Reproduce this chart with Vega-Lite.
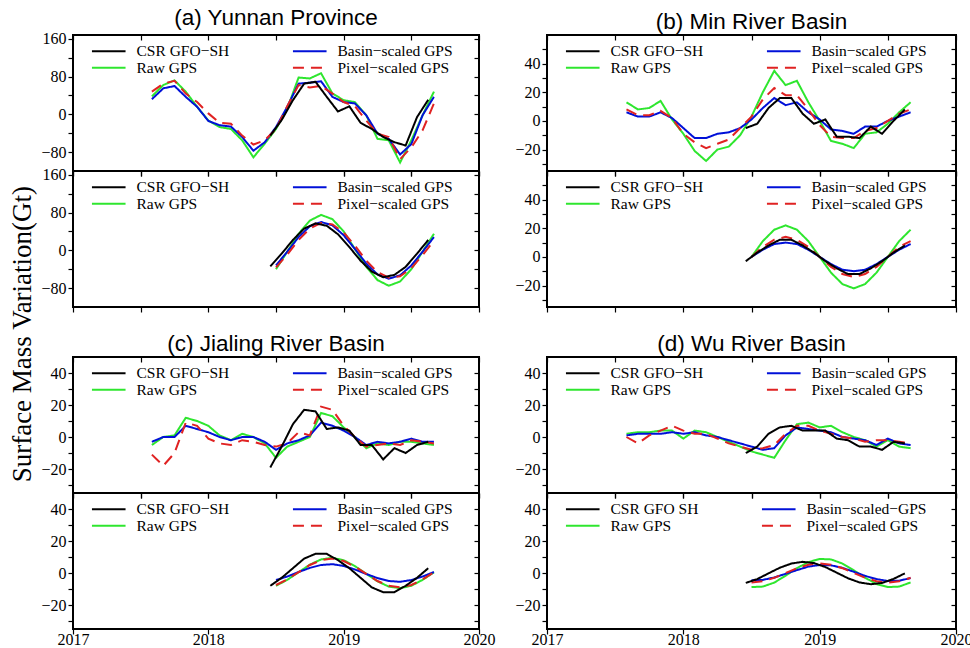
{
  "$schema": "https://vega.github.io/schema/vega-lite/v6.json",
  "padding": {"left": 8, "top": 6, "right": 6, "bottom": 2},
  "background": "white",
  "title": {"text": "Surface Mass Variation(Gt)", "orient": "left", "anchor": "middle", "font": "Liberation Serif", "fontSize": 27, "fontWeight": "normal", "color": "black", "offset": 3, "dx": -7},
  "config": {
    "view": {"stroke": "black", "strokeWidth": 2},
    "axis": {"labelFont": "Liberation Serif", "labelFontSize": 16, "labelColor": "black", "tickColor": "black", "tickWidth": 1.2, "tickSize": 5, "domain": false, "grid": false, "labelFlush": false, "labelOverlap": false, "labelBound": false, "labelPadding": 2},
    "title": {"font": "Liberation Sans", "fontSize": 22.5, "fontWeight": "normal", "color": "black", "offset": 1},
    "line": {"strokeWidth": 2}
  },
  "datasets": {
    "gms": [
      {"r":"a","p":"obs","s":"raw","t":2017.583,"v":38},{"r":"a","p":"obs","s":"raw","t":2017.667,"v":62},{"r":"a","p":"obs","s":"raw","t":2017.75,"v":72},{"r":"a","p":"obs","s":"raw","t":2017.833,"v":48},{"r":"a","p":"obs","s":"raw","t":2017.917,"v":16},{"r":"a","p":"obs","s":"raw","t":2018,"v":-13},{"r":"a","p":"obs","s":"raw","t":2018.083,"v":-27},{"r":"a","p":"obs","s":"raw","t":2018.167,"v":-31},{"r":"a","p":"obs","s":"raw","t":2018.25,"v":-55},{"r":"a","p":"obs","s":"raw","t":2018.333,"v":-91},{"r":"a","p":"obs","s":"raw","t":2018.417,"v":-62},{"r":"a","p":"obs","s":"raw","t":2018.5,"v":-31},{"r":"a","p":"obs","s":"raw","t":2018.583,"v":12},{"r":"a","p":"obs","s":"raw","t":2018.667,"v":78},{"r":"a","p":"obs","s":"raw","t":2018.75,"v":76},{"r":"a","p":"obs","s":"raw","t":2018.833,"v":87},{"r":"a","p":"obs","s":"raw","t":2018.917,"v":44},{"r":"a","p":"obs","s":"raw","t":2019,"v":30},{"r":"a","p":"obs","s":"raw","t":2019.083,"v":26},{"r":"a","p":"obs","s":"raw","t":2019.167,"v":-2},{"r":"a","p":"obs","s":"raw","t":2019.25,"v":-52},{"r":"a","p":"obs","s":"raw","t":2019.333,"v":-55},{"r":"a","p":"obs","s":"raw","t":2019.417,"v":-102},{"r":"a","p":"obs","s":"raw","t":2019.5,"v":-55},{"r":"a","p":"obs","s":"raw","t":2019.583,"v":-2},{"r":"a","p":"obs","s":"raw","t":2019.667,"v":48},
      {"r":"a","p":"obs","s":"basin","t":2017.583,"v":32},{"r":"a","p":"obs","s":"basin","t":2017.667,"v":55},{"r":"a","p":"obs","s":"basin","t":2017.75,"v":60},{"r":"a","p":"obs","s":"basin","t":2017.833,"v":37},{"r":"a","p":"obs","s":"basin","t":2017.917,"v":16},{"r":"a","p":"obs","s":"basin","t":2018,"v":-14},{"r":"a","p":"obs","s":"basin","t":2018.083,"v":-23},{"r":"a","p":"obs","s":"basin","t":2018.167,"v":-26},{"r":"a","p":"obs","s":"basin","t":2018.25,"v":-48},{"r":"a","p":"obs","s":"basin","t":2018.333,"v":-77},{"r":"a","p":"obs","s":"basin","t":2018.417,"v":-59},{"r":"a","p":"obs","s":"basin","t":2018.5,"v":-27},{"r":"a","p":"obs","s":"basin","t":2018.583,"v":16},{"r":"a","p":"obs","s":"basin","t":2018.667,"v":65},{"r":"a","p":"obs","s":"basin","t":2018.75,"v":67},{"r":"a","p":"obs","s":"basin","t":2018.833,"v":70},{"r":"a","p":"obs","s":"basin","t":2018.917,"v":37},{"r":"a","p":"obs","s":"basin","t":2019,"v":26},{"r":"a","p":"obs","s":"basin","t":2019.083,"v":23},{"r":"a","p":"obs","s":"basin","t":2019.167,"v":-2},{"r":"a","p":"obs","s":"basin","t":2019.25,"v":-41},{"r":"a","p":"obs","s":"basin","t":2019.333,"v":-52},{"r":"a","p":"obs","s":"basin","t":2019.417,"v":-85},{"r":"a","p":"obs","s":"basin","t":2019.5,"v":-63},{"r":"a","p":"obs","s":"basin","t":2019.583,"v":-2},{"r":"a","p":"obs","s":"basin","t":2019.667,"v":37},
      {"r":"a","p":"obs","s":"pixel","t":2017.583,"v":48},{"r":"a","p":"obs","s":"pixel","t":2017.667,"v":65},{"r":"a","p":"obs","s":"pixel","t":2017.75,"v":71},{"r":"a","p":"obs","s":"pixel","t":2017.833,"v":44},{"r":"a","p":"obs","s":"pixel","t":2017.917,"v":26},{"r":"a","p":"obs","s":"pixel","t":2018,"v":2},{"r":"a","p":"obs","s":"pixel","t":2018.083,"v":-18},{"r":"a","p":"obs","s":"pixel","t":2018.167,"v":-20},{"r":"a","p":"obs","s":"pixel","t":2018.25,"v":-45},{"r":"a","p":"obs","s":"pixel","t":2018.333,"v":-64},{"r":"a","p":"obs","s":"pixel","t":2018.417,"v":-55},{"r":"a","p":"obs","s":"pixel","t":2018.5,"v":-31},{"r":"a","p":"obs","s":"pixel","t":2018.583,"v":17},{"r":"a","p":"obs","s":"pixel","t":2018.667,"v":62},{"r":"a","p":"obs","s":"pixel","t":2018.75,"v":57},{"r":"a","p":"obs","s":"pixel","t":2018.833,"v":60},{"r":"a","p":"obs","s":"pixel","t":2018.917,"v":44},{"r":"a","p":"obs","s":"pixel","t":2019,"v":26},{"r":"a","p":"obs","s":"pixel","t":2019.083,"v":17},{"r":"a","p":"obs","s":"pixel","t":2019.167,"v":-13},{"r":"a","p":"obs","s":"pixel","t":2019.25,"v":-41},{"r":"a","p":"obs","s":"pixel","t":2019.333,"v":-48},{"r":"a","p":"obs","s":"pixel","t":2019.417,"v":-95},{"r":"a","p":"obs","s":"pixel","t":2019.5,"v":-70},{"r":"a","p":"obs","s":"pixel","t":2019.583,"v":-34},{"r":"a","p":"obs","s":"pixel","t":2019.667,"v":23},
      {"r":"a","p":"obs","s":"csr","t":2018.458,"v":-45},{"r":"a","p":"obs","s":"csr","t":2018.542,"v":-12},{"r":"a","p":"obs","s":"csr","t":2018.625,"v":30},{"r":"a","p":"obs","s":"csr","t":2018.708,"v":65},{"r":"a","p":"obs","s":"csr","t":2018.792,"v":69},{"r":"a","p":"obs","s":"csr","t":2018.875,"v":37},{"r":"a","p":"obs","s":"csr","t":2018.958,"v":6},{"r":"a","p":"obs","s":"csr","t":2019.042,"v":17},{"r":"a","p":"obs","s":"csr","t":2019.125,"v":-18},{"r":"a","p":"obs","s":"csr","t":2019.208,"v":-31},{"r":"a","p":"obs","s":"csr","t":2019.292,"v":-48},{"r":"a","p":"obs","s":"csr","t":2019.375,"v":-59},{"r":"a","p":"obs","s":"csr","t":2019.458,"v":-66},{"r":"a","p":"obs","s":"csr","t":2019.542,"v":-6},{"r":"a","p":"obs","s":"csr","t":2019.625,"v":31},

      {"r":"a","p":"fit","s":"raw","t":2018.5,"v":-40},{"r":"a","p":"fit","s":"raw","t":2018.583,"v":-3},{"r":"a","p":"fit","s":"raw","t":2018.667,"v":35},{"r":"a","p":"fit","s":"raw","t":2018.75,"v":63},{"r":"a","p":"fit","s":"raw","t":2018.833,"v":75},{"r":"a","p":"fit","s":"raw","t":2018.917,"v":66},{"r":"a","p":"fit","s":"raw","t":2019,"v":40},{"r":"a","p":"fit","s":"raw","t":2019.083,"v":3},{"r":"a","p":"fit","s":"raw","t":2019.167,"v":-35},{"r":"a","p":"fit","s":"raw","t":2019.25,"v":-63},{"r":"a","p":"fit","s":"raw","t":2019.333,"v":-75},{"r":"a","p":"fit","s":"raw","t":2019.417,"v":-66},{"r":"a","p":"fit","s":"raw","t":2019.5,"v":-40},{"r":"a","p":"fit","s":"raw","t":2019.583,"v":-3},{"r":"a","p":"fit","s":"raw","t":2019.667,"v":35},
      {"r":"a","p":"fit","s":"basin","t":2018.5,"v":-32},{"r":"a","p":"fit","s":"basin","t":2018.583,"v":-3},{"r":"a","p":"fit","s":"basin","t":2018.667,"v":28},{"r":"a","p":"fit","s":"basin","t":2018.75,"v":51},{"r":"a","p":"fit","s":"basin","t":2018.833,"v":60},{"r":"a","p":"fit","s":"basin","t":2018.917,"v":53},{"r":"a","p":"fit","s":"basin","t":2019,"v":32},{"r":"a","p":"fit","s":"basin","t":2019.083,"v":3},{"r":"a","p":"fit","s":"basin","t":2019.167,"v":-28},{"r":"a","p":"fit","s":"basin","t":2019.25,"v":-51},{"r":"a","p":"fit","s":"basin","t":2019.333,"v":-60},{"r":"a","p":"fit","s":"basin","t":2019.417,"v":-53},{"r":"a","p":"fit","s":"basin","t":2019.5,"v":-32},{"r":"a","p":"fit","s":"basin","t":2019.583,"v":-3},{"r":"a","p":"fit","s":"basin","t":2019.667,"v":28},
      {"r":"a","p":"fit","s":"pixel","t":2018.5,"v":-36},{"r":"a","p":"fit","s":"pixel","t":2018.583,"v":-9},{"r":"a","p":"fit","s":"pixel","t":2018.667,"v":22},{"r":"a","p":"fit","s":"pixel","t":2018.75,"v":46},{"r":"a","p":"fit","s":"pixel","t":2018.833,"v":58},{"r":"a","p":"fit","s":"pixel","t":2018.917,"v":55},{"r":"a","p":"fit","s":"pixel","t":2019,"v":38},{"r":"a","p":"fit","s":"pixel","t":2019.083,"v":10},{"r":"a","p":"fit","s":"pixel","t":2019.167,"v":-22},{"r":"a","p":"fit","s":"pixel","t":2019.25,"v":-46},{"r":"a","p":"fit","s":"pixel","t":2019.333,"v":-58},{"r":"a","p":"fit","s":"pixel","t":2019.417,"v":-55},{"r":"a","p":"fit","s":"pixel","t":2019.5,"v":-38},{"r":"a","p":"fit","s":"pixel","t":2019.583,"v":-10},{"r":"a","p":"fit","s":"pixel","t":2019.667,"v":20},
      {"r":"a","p":"fit","s":"csr","t":2018.458,"v":-34},{"r":"a","p":"fit","s":"csr","t":2018.542,"v":-7},{"r":"a","p":"fit","s":"csr","t":2018.625,"v":22},{"r":"a","p":"fit","s":"csr","t":2018.708,"v":46},{"r":"a","p":"fit","s":"csr","t":2018.792,"v":57},{"r":"a","p":"fit","s":"csr","t":2018.875,"v":52},{"r":"a","p":"fit","s":"csr","t":2018.958,"v":34},{"r":"a","p":"fit","s":"csr","t":2019.042,"v":7},{"r":"a","p":"fit","s":"csr","t":2019.125,"v":-22},{"r":"a","p":"fit","s":"csr","t":2019.208,"v":-45},{"r":"a","p":"fit","s":"csr","t":2019.292,"v":-57},{"r":"a","p":"fit","s":"csr","t":2019.375,"v":-52},{"r":"a","p":"fit","s":"csr","t":2019.458,"v":-35},{"r":"a","p":"fit","s":"csr","t":2019.542,"v":-7},{"r":"a","p":"fit","s":"csr","t":2019.625,"v":22},

      {"r":"b","p":"obs","s":"raw","t":2017.583,"v":13},{"r":"b","p":"obs","s":"raw","t":2017.667,"v":8},{"r":"b","p":"obs","s":"raw","t":2017.75,"v":9},{"r":"b","p":"obs","s":"raw","t":2017.833,"v":14},{"r":"b","p":"obs","s":"raw","t":2017.917,"v":1},{"r":"b","p":"obs","s":"raw","t":2018,"v":-9},{"r":"b","p":"obs","s":"raw","t":2018.083,"v":-21},{"r":"b","p":"obs","s":"raw","t":2018.167,"v":-28},{"r":"b","p":"obs","s":"raw","t":2018.25,"v":-20},{"r":"b","p":"obs","s":"raw","t":2018.333,"v":-18},{"r":"b","p":"obs","s":"raw","t":2018.417,"v":-10},{"r":"b","p":"obs","s":"raw","t":2018.5,"v":3},{"r":"b","p":"obs","s":"raw","t":2018.583,"v":20},{"r":"b","p":"obs","s":"raw","t":2018.667,"v":35},{"r":"b","p":"obs","s":"raw","t":2018.75,"v":25},{"r":"b","p":"obs","s":"raw","t":2018.833,"v":28},{"r":"b","p":"obs","s":"raw","t":2018.917,"v":13},{"r":"b","p":"obs","s":"raw","t":2019,"v":0},{"r":"b","p":"obs","s":"raw","t":2019.083,"v":-14},{"r":"b","p":"obs","s":"raw","t":2019.167,"v":-16},{"r":"b","p":"obs","s":"raw","t":2019.25,"v":-19},{"r":"b","p":"obs","s":"raw","t":2019.333,"v":-9},{"r":"b","p":"obs","s":"raw","t":2019.417,"v":-8},{"r":"b","p":"obs","s":"raw","t":2019.5,"v":-2},{"r":"b","p":"obs","s":"raw","t":2019.583,"v":6},{"r":"b","p":"obs","s":"raw","t":2019.667,"v":13},
      {"r":"b","p":"obs","s":"basin","t":2017.583,"v":6},{"r":"b","p":"obs","s":"basin","t":2017.667,"v":3},{"r":"b","p":"obs","s":"basin","t":2017.75,"v":3},{"r":"b","p":"obs","s":"basin","t":2017.833,"v":6},{"r":"b","p":"obs","s":"basin","t":2017.917,"v":2},{"r":"b","p":"obs","s":"basin","t":2018,"v":-5},{"r":"b","p":"obs","s":"basin","t":2018.083,"v":-12},{"r":"b","p":"obs","s":"basin","t":2018.167,"v":-12},{"r":"b","p":"obs","s":"basin","t":2018.25,"v":-9},{"r":"b","p":"obs","s":"basin","t":2018.333,"v":-8},{"r":"b","p":"obs","s":"basin","t":2018.417,"v":-5},{"r":"b","p":"obs","s":"basin","t":2018.5,"v":1},{"r":"b","p":"obs","s":"basin","t":2018.583,"v":9},{"r":"b","p":"obs","s":"basin","t":2018.667,"v":16},{"r":"b","p":"obs","s":"basin","t":2018.75,"v":11},{"r":"b","p":"obs","s":"basin","t":2018.833,"v":13},{"r":"b","p":"obs","s":"basin","t":2018.917,"v":6},{"r":"b","p":"obs","s":"basin","t":2019,"v":1},{"r":"b","p":"obs","s":"basin","t":2019.083,"v":-6},{"r":"b","p":"obs","s":"basin","t":2019.167,"v":-7},{"r":"b","p":"obs","s":"basin","t":2019.25,"v":-9},{"r":"b","p":"obs","s":"basin","t":2019.333,"v":-4},{"r":"b","p":"obs","s":"basin","t":2019.417,"v":-4},{"r":"b","p":"obs","s":"basin","t":2019.5,"v":0},{"r":"b","p":"obs","s":"basin","t":2019.583,"v":3},{"r":"b","p":"obs","s":"basin","t":2019.667,"v":6},
      {"r":"b","p":"obs","s":"pixel","t":2017.583,"v":8},{"r":"b","p":"obs","s":"pixel","t":2017.667,"v":4},{"r":"b","p":"obs","s":"pixel","t":2017.75,"v":4},{"r":"b","p":"obs","s":"pixel","t":2017.833,"v":7},{"r":"b","p":"obs","s":"pixel","t":2017.917,"v":2},{"r":"b","p":"obs","s":"pixel","t":2018,"v":-9},{"r":"b","p":"obs","s":"pixel","t":2018.083,"v":-15},{"r":"b","p":"obs","s":"pixel","t":2018.167,"v":-19},{"r":"b","p":"obs","s":"pixel","t":2018.25,"v":-16},{"r":"b","p":"obs","s":"pixel","t":2018.333,"v":-13},{"r":"b","p":"obs","s":"pixel","t":2018.417,"v":-5},{"r":"b","p":"obs","s":"pixel","t":2018.5,"v":3},{"r":"b","p":"obs","s":"pixel","t":2018.583,"v":15},{"r":"b","p":"obs","s":"pixel","t":2018.667,"v":23},{"r":"b","p":"obs","s":"pixel","t":2018.75,"v":18},{"r":"b","p":"obs","s":"pixel","t":2018.833,"v":18},{"r":"b","p":"obs","s":"pixel","t":2018.917,"v":8},{"r":"b","p":"obs","s":"pixel","t":2019,"v":-3},{"r":"b","p":"obs","s":"pixel","t":2019.083,"v":-11},{"r":"b","p":"obs","s":"pixel","t":2019.167,"v":-12},{"r":"b","p":"obs","s":"pixel","t":2019.25,"v":-12},{"r":"b","p":"obs","s":"pixel","t":2019.333,"v":-7},{"r":"b","p":"obs","s":"pixel","t":2019.417,"v":-5},{"r":"b","p":"obs","s":"pixel","t":2019.5,"v":0},{"r":"b","p":"obs","s":"pixel","t":2019.583,"v":5},{"r":"b","p":"obs","s":"pixel","t":2019.667,"v":8},
      {"r":"b","p":"obs","s":"csr","t":2018.458,"v":-5},{"r":"b","p":"obs","s":"csr","t":2018.542,"v":-2},{"r":"b","p":"obs","s":"csr","t":2018.625,"v":9},{"r":"b","p":"obs","s":"csr","t":2018.708,"v":16},{"r":"b","p":"obs","s":"csr","t":2018.792,"v":16},{"r":"b","p":"obs","s":"csr","t":2018.875,"v":5},{"r":"b","p":"obs","s":"csr","t":2018.958,"v":-2},{"r":"b","p":"obs","s":"csr","t":2019.042,"v":1},{"r":"b","p":"obs","s":"csr","t":2019.125,"v":-11},{"r":"b","p":"obs","s":"csr","t":2019.208,"v":-11},{"r":"b","p":"obs","s":"csr","t":2019.292,"v":-12},{"r":"b","p":"obs","s":"csr","t":2019.375,"v":-4},{"r":"b","p":"obs","s":"csr","t":2019.458,"v":-9},{"r":"b","p":"obs","s":"csr","t":2019.542,"v":0},{"r":"b","p":"obs","s":"csr","t":2019.625,"v":8},

      {"r":"b","p":"fit","s":"raw","t":2018.5,"v":0},{"r":"b","p":"fit","s":"raw","t":2018.583,"v":11},{"r":"b","p":"fit","s":"raw","t":2018.667,"v":19},{"r":"b","p":"fit","s":"raw","t":2018.75,"v":22},{"r":"b","p":"fit","s":"raw","t":2018.833,"v":19},{"r":"b","p":"fit","s":"raw","t":2018.917,"v":11},{"r":"b","p":"fit","s":"raw","t":2019,"v":0},{"r":"b","p":"fit","s":"raw","t":2019.083,"v":-11},{"r":"b","p":"fit","s":"raw","t":2019.167,"v":-19},{"r":"b","p":"fit","s":"raw","t":2019.25,"v":-22},{"r":"b","p":"fit","s":"raw","t":2019.333,"v":-19},{"r":"b","p":"fit","s":"raw","t":2019.417,"v":-11},{"r":"b","p":"fit","s":"raw","t":2019.5,"v":0},{"r":"b","p":"fit","s":"raw","t":2019.583,"v":11},{"r":"b","p":"fit","s":"raw","t":2019.667,"v":19},
      {"r":"b","p":"fit","s":"basin","t":2018.5,"v":0},{"r":"b","p":"fit","s":"basin","t":2018.583,"v":5},{"r":"b","p":"fit","s":"basin","t":2018.667,"v":9},{"r":"b","p":"fit","s":"basin","t":2018.75,"v":10},{"r":"b","p":"fit","s":"basin","t":2018.833,"v":9},{"r":"b","p":"fit","s":"basin","t":2018.917,"v":5},{"r":"b","p":"fit","s":"basin","t":2019,"v":0},{"r":"b","p":"fit","s":"basin","t":2019.083,"v":-5},{"r":"b","p":"fit","s":"basin","t":2019.167,"v":-9},{"r":"b","p":"fit","s":"basin","t":2019.25,"v":-10},{"r":"b","p":"fit","s":"basin","t":2019.333,"v":-9},{"r":"b","p":"fit","s":"basin","t":2019.417,"v":-5},{"r":"b","p":"fit","s":"basin","t":2019.5,"v":0},{"r":"b","p":"fit","s":"basin","t":2019.583,"v":5},{"r":"b","p":"fit","s":"basin","t":2019.667,"v":9},
      {"r":"b","p":"fit","s":"pixel","t":2018.5,"v":0},{"r":"b","p":"fit","s":"pixel","t":2018.583,"v":7},{"r":"b","p":"fit","s":"pixel","t":2018.667,"v":12},{"r":"b","p":"fit","s":"pixel","t":2018.75,"v":14},{"r":"b","p":"fit","s":"pixel","t":2018.833,"v":12},{"r":"b","p":"fit","s":"pixel","t":2018.917,"v":7},{"r":"b","p":"fit","s":"pixel","t":2019,"v":0},{"r":"b","p":"fit","s":"pixel","t":2019.083,"v":-7},{"r":"b","p":"fit","s":"pixel","t":2019.167,"v":-12},{"r":"b","p":"fit","s":"pixel","t":2019.25,"v":-14},{"r":"b","p":"fit","s":"pixel","t":2019.333,"v":-12},{"r":"b","p":"fit","s":"pixel","t":2019.417,"v":-7},{"r":"b","p":"fit","s":"pixel","t":2019.5,"v":0},{"r":"b","p":"fit","s":"pixel","t":2019.583,"v":7},{"r":"b","p":"fit","s":"pixel","t":2019.667,"v":11},
      {"r":"b","p":"fit","s":"csr","t":2018.458,"v":-3},{"r":"b","p":"fit","s":"csr","t":2018.542,"v":3},{"r":"b","p":"fit","s":"csr","t":2018.625,"v":8},{"r":"b","p":"fit","s":"csr","t":2018.708,"v":12},{"r":"b","p":"fit","s":"csr","t":2018.792,"v":12},{"r":"b","p":"fit","s":"csr","t":2018.875,"v":8},{"r":"b","p":"fit","s":"csr","t":2018.958,"v":3},{"r":"b","p":"fit","s":"csr","t":2019.042,"v":-3},{"r":"b","p":"fit","s":"csr","t":2019.125,"v":-8},{"r":"b","p":"fit","s":"csr","t":2019.208,"v":-12},{"r":"b","p":"fit","s":"csr","t":2019.292,"v":-12},{"r":"b","p":"fit","s":"csr","t":2019.375,"v":-8},{"r":"b","p":"fit","s":"csr","t":2019.458,"v":-3},{"r":"b","p":"fit","s":"csr","t":2019.542,"v":3},{"r":"b","p":"fit","s":"csr","t":2019.625,"v":8},

      {"r":"c","p":"obs","s":"raw","t":2017.583,"v":-5},{"r":"c","p":"obs","s":"raw","t":2017.667,"v":0},{"r":"c","p":"obs","s":"raw","t":2017.75,"v":1},{"r":"c","p":"obs","s":"raw","t":2017.833,"v":12},{"r":"c","p":"obs","s":"raw","t":2017.917,"v":10},{"r":"c","p":"obs","s":"raw","t":2018,"v":7},{"r":"c","p":"obs","s":"raw","t":2018.083,"v":1},{"r":"c","p":"obs","s":"raw","t":2018.167,"v":-2},{"r":"c","p":"obs","s":"raw","t":2018.25,"v":2},{"r":"c","p":"obs","s":"raw","t":2018.333,"v":0},{"r":"c","p":"obs","s":"raw","t":2018.417,"v":-4},{"r":"c","p":"obs","s":"raw","t":2018.5,"v":-13},{"r":"c","p":"obs","s":"raw","t":2018.583,"v":-6},{"r":"c","p":"obs","s":"raw","t":2018.667,"v":-3},{"r":"c","p":"obs","s":"raw","t":2018.75,"v":0},{"r":"c","p":"obs","s":"raw","t":2018.833,"v":15},{"r":"c","p":"obs","s":"raw","t":2018.917,"v":13},{"r":"c","p":"obs","s":"raw","t":2019,"v":6},{"r":"c","p":"obs","s":"raw","t":2019.083,"v":0},{"r":"c","p":"obs","s":"raw","t":2019.167,"v":-7},{"r":"c","p":"obs","s":"raw","t":2019.25,"v":-4},{"r":"c","p":"obs","s":"raw","t":2019.333,"v":-5},{"r":"c","p":"obs","s":"raw","t":2019.417,"v":-3},{"r":"c","p":"obs","s":"raw","t":2019.5,"v":-3},{"r":"c","p":"obs","s":"raw","t":2019.583,"v":-4},{"r":"c","p":"obs","s":"raw","t":2019.667,"v":-5},
      {"r":"c","p":"obs","s":"basin","t":2017.583,"v":-3},{"r":"c","p":"obs","s":"basin","t":2017.667,"v":0},{"r":"c","p":"obs","s":"basin","t":2017.75,"v":0},{"r":"c","p":"obs","s":"basin","t":2017.833,"v":7},{"r":"c","p":"obs","s":"basin","t":2017.917,"v":5},{"r":"c","p":"obs","s":"basin","t":2018,"v":3},{"r":"c","p":"obs","s":"basin","t":2018.083,"v":0},{"r":"c","p":"obs","s":"basin","t":2018.167,"v":-2},{"r":"c","p":"obs","s":"basin","t":2018.25,"v":0},{"r":"c","p":"obs","s":"basin","t":2018.333,"v":0},{"r":"c","p":"obs","s":"basin","t":2018.417,"v":-3},{"r":"c","p":"obs","s":"basin","t":2018.5,"v":-8},{"r":"c","p":"obs","s":"basin","t":2018.583,"v":-4},{"r":"c","p":"obs","s":"basin","t":2018.667,"v":-2},{"r":"c","p":"obs","s":"basin","t":2018.75,"v":1},{"r":"c","p":"obs","s":"basin","t":2018.833,"v":9},{"r":"c","p":"obs","s":"basin","t":2018.917,"v":7},{"r":"c","p":"obs","s":"basin","t":2019,"v":4},{"r":"c","p":"obs","s":"basin","t":2019.083,"v":0},{"r":"c","p":"obs","s":"basin","t":2019.167,"v":-5},{"r":"c","p":"obs","s":"basin","t":2019.25,"v":-3},{"r":"c","p":"obs","s":"basin","t":2019.333,"v":-4},{"r":"c","p":"obs","s":"basin","t":2019.417,"v":-3},{"r":"c","p":"obs","s":"basin","t":2019.5,"v":-1},{"r":"c","p":"obs","s":"basin","t":2019.583,"v":-3},{"r":"c","p":"obs","s":"basin","t":2019.667,"v":-3},
      {"r":"c","p":"obs","s":"pixel","t":2017.583,"v":-11},{"r":"c","p":"obs","s":"pixel","t":2017.667,"v":-18},{"r":"c","p":"obs","s":"pixel","t":2017.75,"v":-10},{"r":"c","p":"obs","s":"pixel","t":2017.833,"v":9},{"r":"c","p":"obs","s":"pixel","t":2017.917,"v":7},{"r":"c","p":"obs","s":"pixel","t":2018,"v":-1},{"r":"c","p":"obs","s":"pixel","t":2018.083,"v":-4},{"r":"c","p":"obs","s":"pixel","t":2018.167,"v":-5},{"r":"c","p":"obs","s":"pixel","t":2018.25,"v":-2},{"r":"c","p":"obs","s":"pixel","t":2018.333,"v":-3},{"r":"c","p":"obs","s":"pixel","t":2018.417,"v":-5},{"r":"c","p":"obs","s":"pixel","t":2018.5,"v":-6},{"r":"c","p":"obs","s":"pixel","t":2018.583,"v":-4},{"r":"c","p":"obs","s":"pixel","t":2018.667,"v":3},{"r":"c","p":"obs","s":"pixel","t":2018.75,"v":1},{"r":"c","p":"obs","s":"pixel","t":2018.833,"v":19},{"r":"c","p":"obs","s":"pixel","t":2018.917,"v":17},{"r":"c","p":"obs","s":"pixel","t":2019,"v":7},{"r":"c","p":"obs","s":"pixel","t":2019.083,"v":0},{"r":"c","p":"obs","s":"pixel","t":2019.167,"v":-6},{"r":"c","p":"obs","s":"pixel","t":2019.25,"v":-5},{"r":"c","p":"obs","s":"pixel","t":2019.333,"v":-4},{"r":"c","p":"obs","s":"pixel","t":2019.417,"v":-5},{"r":"c","p":"obs","s":"pixel","t":2019.5,"v":-2},{"r":"c","p":"obs","s":"pixel","t":2019.583,"v":-3},{"r":"c","p":"obs","s":"pixel","t":2019.667,"v":-4},
      {"r":"c","p":"obs","s":"csr","t":2018.458,"v":-19},{"r":"c","p":"obs","s":"csr","t":2018.542,"v":-6},{"r":"c","p":"obs","s":"csr","t":2018.625,"v":8},{"r":"c","p":"obs","s":"csr","t":2018.708,"v":17},{"r":"c","p":"obs","s":"csr","t":2018.792,"v":16},{"r":"c","p":"obs","s":"csr","t":2018.875,"v":5},{"r":"c","p":"obs","s":"csr","t":2018.958,"v":6},{"r":"c","p":"obs","s":"csr","t":2019.042,"v":4},{"r":"c","p":"obs","s":"csr","t":2019.125,"v":-5},{"r":"c","p":"obs","s":"csr","t":2019.208,"v":-5},{"r":"c","p":"obs","s":"csr","t":2019.292,"v":-14},{"r":"c","p":"obs","s":"csr","t":2019.375,"v":-7},{"r":"c","p":"obs","s":"csr","t":2019.458,"v":-10},{"r":"c","p":"obs","s":"csr","t":2019.542,"v":-5},{"r":"c","p":"obs","s":"csr","t":2019.625,"v":-3},

      {"r":"c","p":"fit","s":"raw","t":2018.5,"v":-8},{"r":"c","p":"fit","s":"raw","t":2018.583,"v":-4.3},{"r":"c","p":"fit","s":"raw","t":2018.667,"v":0.5},{"r":"c","p":"fit","s":"raw","t":2018.75,"v":5.2},{"r":"c","p":"fit","s":"raw","t":2018.833,"v":8.5},{"r":"c","p":"fit","s":"raw","t":2018.917,"v":9.5},{"r":"c","p":"fit","s":"raw","t":2019,"v":8},{"r":"c","p":"fit","s":"raw","t":2019.083,"v":4.3},{"r":"c","p":"fit","s":"raw","t":2019.167,"v":-0.5},{"r":"c","p":"fit","s":"raw","t":2019.25,"v":-5.2},{"r":"c","p":"fit","s":"raw","t":2019.333,"v":-8.5},{"r":"c","p":"fit","s":"raw","t":2019.417,"v":-9.5},{"r":"c","p":"fit","s":"raw","t":2019.5,"v":-8},{"r":"c","p":"fit","s":"raw","t":2019.583,"v":-4.3},{"r":"c","p":"fit","s":"raw","t":2019.667,"v":0.4},
      {"r":"c","p":"fit","s":"basin","t":2018.5,"v":-4.4},{"r":"c","p":"fit","s":"basin","t":2018.583,"v":-2.2},{"r":"c","p":"fit","s":"basin","t":2018.667,"v":0.6},{"r":"c","p":"fit","s":"basin","t":2018.75,"v":3.2},{"r":"c","p":"fit","s":"basin","t":2018.833,"v":5},{"r":"c","p":"fit","s":"basin","t":2018.917,"v":5.5},{"r":"c","p":"fit","s":"basin","t":2019,"v":4.4},{"r":"c","p":"fit","s":"basin","t":2019.083,"v":2.2},{"r":"c","p":"fit","s":"basin","t":2019.167,"v":-0.6},{"r":"c","p":"fit","s":"basin","t":2019.25,"v":-3.2},{"r":"c","p":"fit","s":"basin","t":2019.333,"v":-5},{"r":"c","p":"fit","s":"basin","t":2019.417,"v":-5.5},{"r":"c","p":"fit","s":"basin","t":2019.5,"v":-4.4},{"r":"c","p":"fit","s":"basin","t":2019.583,"v":-2.2},{"r":"c","p":"fit","s":"basin","t":2019.667,"v":0.6},
      {"r":"c","p":"fit","s":"pixel","t":2018.5,"v":-7.5},{"r":"c","p":"fit","s":"pixel","t":2018.583,"v":-4},{"r":"c","p":"fit","s":"pixel","t":2018.667,"v":0.5},{"r":"c","p":"fit","s":"pixel","t":2018.75,"v":5},{"r":"c","p":"fit","s":"pixel","t":2018.833,"v":8},{"r":"c","p":"fit","s":"pixel","t":2018.917,"v":9},{"r":"c","p":"fit","s":"pixel","t":2019,"v":7.5},{"r":"c","p":"fit","s":"pixel","t":2019.083,"v":4},{"r":"c","p":"fit","s":"pixel","t":2019.167,"v":-0.5},{"r":"c","p":"fit","s":"pixel","t":2019.25,"v":-5},{"r":"c","p":"fit","s":"pixel","t":2019.333,"v":-8},{"r":"c","p":"fit","s":"pixel","t":2019.417,"v":-9},{"r":"c","p":"fit","s":"pixel","t":2019.5,"v":-7.5},{"r":"c","p":"fit","s":"pixel","t":2019.583,"v":-4},{"r":"c","p":"fit","s":"pixel","t":2019.667,"v":0.5},
      {"r":"c","p":"fit","s":"csr","t":2018.458,"v":-8},{"r":"c","p":"fit","s":"csr","t":2018.542,"v":-3},{"r":"c","p":"fit","s":"csr","t":2018.625,"v":3},{"r":"c","p":"fit","s":"csr","t":2018.708,"v":9},{"r":"c","p":"fit","s":"csr","t":2018.792,"v":12},{"r":"c","p":"fit","s":"csr","t":2018.875,"v":12},{"r":"c","p":"fit","s":"csr","t":2018.958,"v":8},{"r":"c","p":"fit","s":"csr","t":2019.042,"v":3},{"r":"c","p":"fit","s":"csr","t":2019.125,"v":-3},{"r":"c","p":"fit","s":"csr","t":2019.208,"v":-9},{"r":"c","p":"fit","s":"csr","t":2019.292,"v":-12},{"r":"c","p":"fit","s":"csr","t":2019.375,"v":-12},{"r":"c","p":"fit","s":"csr","t":2019.458,"v":-8},{"r":"c","p":"fit","s":"csr","t":2019.542,"v":-3},{"r":"c","p":"fit","s":"csr","t":2019.625,"v":3},

      {"r":"d","p":"obs","s":"raw","t":2017.583,"v":2},{"r":"d","p":"obs","s":"raw","t":2017.667,"v":3},{"r":"d","p":"obs","s":"raw","t":2017.75,"v":3},{"r":"d","p":"obs","s":"raw","t":2017.833,"v":4},{"r":"d","p":"obs","s":"raw","t":2017.917,"v":4},{"r":"d","p":"obs","s":"raw","t":2018,"v":-1},{"r":"d","p":"obs","s":"raw","t":2018.083,"v":4},{"r":"d","p":"obs","s":"raw","t":2018.167,"v":3},{"r":"d","p":"obs","s":"raw","t":2018.25,"v":0},{"r":"d","p":"obs","s":"raw","t":2018.333,"v":-3},{"r":"d","p":"obs","s":"raw","t":2018.417,"v":-6},{"r":"d","p":"obs","s":"raw","t":2018.5,"v":-9},{"r":"d","p":"obs","s":"raw","t":2018.583,"v":-11},{"r":"d","p":"obs","s":"raw","t":2018.667,"v":-13},{"r":"d","p":"obs","s":"raw","t":2018.75,"v":-2},{"r":"d","p":"obs","s":"raw","t":2018.833,"v":8},{"r":"d","p":"obs","s":"raw","t":2018.917,"v":9},{"r":"d","p":"obs","s":"raw","t":2019,"v":6},{"r":"d","p":"obs","s":"raw","t":2019.083,"v":7},{"r":"d","p":"obs","s":"raw","t":2019.167,"v":3},{"r":"d","p":"obs","s":"raw","t":2019.25,"v":0},{"r":"d","p":"obs","s":"raw","t":2019.333,"v":-2},{"r":"d","p":"obs","s":"raw","t":2019.417,"v":-6},{"r":"d","p":"obs","s":"raw","t":2019.5,"v":-2},{"r":"d","p":"obs","s":"raw","t":2019.583,"v":-6},{"r":"d","p":"obs","s":"raw","t":2019.667,"v":-7},
      {"r":"d","p":"obs","s":"basin","t":2017.583,"v":1},{"r":"d","p":"obs","s":"basin","t":2017.667,"v":2},{"r":"d","p":"obs","s":"basin","t":2017.75,"v":2},{"r":"d","p":"obs","s":"basin","t":2017.833,"v":2},{"r":"d","p":"obs","s":"basin","t":2017.917,"v":3},{"r":"d","p":"obs","s":"basin","t":2018,"v":2},{"r":"d","p":"obs","s":"basin","t":2018.083,"v":3},{"r":"d","p":"obs","s":"basin","t":2018.167,"v":1},{"r":"d","p":"obs","s":"basin","t":2018.25,"v":0},{"r":"d","p":"obs","s":"basin","t":2018.333,"v":-2},{"r":"d","p":"obs","s":"basin","t":2018.417,"v":-4},{"r":"d","p":"obs","s":"basin","t":2018.5,"v":-6},{"r":"d","p":"obs","s":"basin","t":2018.583,"v":-8},{"r":"d","p":"obs","s":"basin","t":2018.667,"v":-7},{"r":"d","p":"obs","s":"basin","t":2018.75,"v":1},{"r":"d","p":"obs","s":"basin","t":2018.833,"v":6},{"r":"d","p":"obs","s":"basin","t":2018.917,"v":5},{"r":"d","p":"obs","s":"basin","t":2019,"v":4},{"r":"d","p":"obs","s":"basin","t":2019.083,"v":3},{"r":"d","p":"obs","s":"basin","t":2019.167,"v":0},{"r":"d","p":"obs","s":"basin","t":2019.25,"v":-1},{"r":"d","p":"obs","s":"basin","t":2019.333,"v":-2},{"r":"d","p":"obs","s":"basin","t":2019.417,"v":-5},{"r":"d","p":"obs","s":"basin","t":2019.5,"v":-1},{"r":"d","p":"obs","s":"basin","t":2019.583,"v":-4},{"r":"d","p":"obs","s":"basin","t":2019.667,"v":-5},
      {"r":"d","p":"obs","s":"pixel","t":2017.583,"v":0},{"r":"d","p":"obs","s":"pixel","t":2017.667,"v":-4},{"r":"d","p":"obs","s":"pixel","t":2017.75,"v":1},{"r":"d","p":"obs","s":"pixel","t":2017.833,"v":4},{"r":"d","p":"obs","s":"pixel","t":2017.917,"v":7},{"r":"d","p":"obs","s":"pixel","t":2018,"v":4},{"r":"d","p":"obs","s":"pixel","t":2018.083,"v":2},{"r":"d","p":"obs","s":"pixel","t":2018.167,"v":2},{"r":"d","p":"obs","s":"pixel","t":2018.25,"v":-1},{"r":"d","p":"obs","s":"pixel","t":2018.333,"v":-4},{"r":"d","p":"obs","s":"pixel","t":2018.417,"v":-6},{"r":"d","p":"obs","s":"pixel","t":2018.5,"v":-8},{"r":"d","p":"obs","s":"pixel","t":2018.583,"v":-7},{"r":"d","p":"obs","s":"pixel","t":2018.667,"v":-5},{"r":"d","p":"obs","s":"pixel","t":2018.75,"v":2},{"r":"d","p":"obs","s":"pixel","t":2018.833,"v":7},{"r":"d","p":"obs","s":"pixel","t":2018.917,"v":7},{"r":"d","p":"obs","s":"pixel","t":2019,"v":4},{"r":"d","p":"obs","s":"pixel","t":2019.083,"v":2},{"r":"d","p":"obs","s":"pixel","t":2019.167,"v":0},{"r":"d","p":"obs","s":"pixel","t":2019.25,"v":-1},{"r":"d","p":"obs","s":"pixel","t":2019.333,"v":-3},{"r":"d","p":"obs","s":"pixel","t":2019.417,"v":-2},{"r":"d","p":"obs","s":"pixel","t":2019.5,"v":-2},{"r":"d","p":"obs","s":"pixel","t":2019.583,"v":-3},{"r":"d","p":"obs","s":"pixel","t":2019.667,"v":-4},
      {"r":"d","p":"obs","s":"csr","t":2018.458,"v":-10},{"r":"d","p":"obs","s":"csr","t":2018.542,"v":-6},{"r":"d","p":"obs","s":"csr","t":2018.625,"v":2},{"r":"d","p":"obs","s":"csr","t":2018.708,"v":6},{"r":"d","p":"obs","s":"csr","t":2018.792,"v":7},{"r":"d","p":"obs","s":"csr","t":2018.875,"v":4},{"r":"d","p":"obs","s":"csr","t":2018.958,"v":4},{"r":"d","p":"obs","s":"csr","t":2019.042,"v":4},{"r":"d","p":"obs","s":"csr","t":2019.125,"v":-1},{"r":"d","p":"obs","s":"csr","t":2019.208,"v":-2},{"r":"d","p":"obs","s":"csr","t":2019.292,"v":-6},{"r":"d","p":"obs","s":"csr","t":2019.375,"v":-6},{"r":"d","p":"obs","s":"csr","t":2019.458,"v":-8},{"r":"d","p":"obs","s":"csr","t":2019.542,"v":-3},{"r":"d","p":"obs","s":"csr","t":2019.625,"v":-4},

      {"r":"d","p":"fit","s":"raw","t":2018.5,"v":-8.8},{"r":"d","p":"fit","s":"raw","t":2018.583,"v":-8.5},{"r":"d","p":"fit","s":"raw","t":2018.667,"v":-6},{"r":"d","p":"fit","s":"raw","t":2018.75,"v":-1.7},{"r":"d","p":"fit","s":"raw","t":2018.833,"v":3},{"r":"d","p":"fit","s":"raw","t":2018.917,"v":6.8},{"r":"d","p":"fit","s":"raw","t":2019,"v":8.8},{"r":"d","p":"fit","s":"raw","t":2019.083,"v":8.5},{"r":"d","p":"fit","s":"raw","t":2019.167,"v":5.9},{"r":"d","p":"fit","s":"raw","t":2019.25,"v":1.7},{"r":"d","p":"fit","s":"raw","t":2019.333,"v":-2.9},{"r":"d","p":"fit","s":"raw","t":2019.417,"v":-6.9},{"r":"d","p":"fit","s":"raw","t":2019.5,"v":-8.8},{"r":"d","p":"fit","s":"raw","t":2019.583,"v":-8.5},{"r":"d","p":"fit","s":"raw","t":2019.667,"v":-5.9},
      {"r":"d","p":"fit","s":"basin","t":2018.5,"v":-4.5},{"r":"d","p":"fit","s":"basin","t":2018.583,"v":-4.3},{"r":"d","p":"fit","s":"basin","t":2018.667,"v":-2.8},{"r":"d","p":"fit","s":"basin","t":2018.75,"v":-0.5},{"r":"d","p":"fit","s":"basin","t":2018.833,"v":1.8},{"r":"d","p":"fit","s":"basin","t":2018.917,"v":4},{"r":"d","p":"fit","s":"basin","t":2019,"v":5},{"r":"d","p":"fit","s":"basin","t":2019.083,"v":4.8},{"r":"d","p":"fit","s":"basin","t":2019.167,"v":3.2},{"r":"d","p":"fit","s":"basin","t":2019.25,"v":0.8},{"r":"d","p":"fit","s":"basin","t":2019.333,"v":-1.8},{"r":"d","p":"fit","s":"basin","t":2019.417,"v":-3.8},{"r":"d","p":"fit","s":"basin","t":2019.5,"v":-5},{"r":"d","p":"fit","s":"basin","t":2019.583,"v":-4.8},{"r":"d","p":"fit","s":"basin","t":2019.667,"v":-3.2},
      {"r":"d","p":"fit","s":"pixel","t":2018.5,"v":-6},{"r":"d","p":"fit","s":"pixel","t":2018.583,"v":-5.2},{"r":"d","p":"fit","s":"pixel","t":2018.667,"v":-3},{"r":"d","p":"fit","s":"pixel","t":2018.75,"v":0},{"r":"d","p":"fit","s":"pixel","t":2018.833,"v":3},{"r":"d","p":"fit","s":"pixel","t":2018.917,"v":5.2},{"r":"d","p":"fit","s":"pixel","t":2019,"v":6},{"r":"d","p":"fit","s":"pixel","t":2019.083,"v":5.2},{"r":"d","p":"fit","s":"pixel","t":2019.167,"v":3},{"r":"d","p":"fit","s":"pixel","t":2019.25,"v":0},{"r":"d","p":"fit","s":"pixel","t":2019.333,"v":-3},{"r":"d","p":"fit","s":"pixel","t":2019.417,"v":-5.2},{"r":"d","p":"fit","s":"pixel","t":2019.5,"v":-6},{"r":"d","p":"fit","s":"pixel","t":2019.583,"v":-5.2},{"r":"d","p":"fit","s":"pixel","t":2019.667,"v":-3},
      {"r":"d","p":"fit","s":"csr","t":2018.458,"v":-6.2},{"r":"d","p":"fit","s":"csr","t":2018.542,"v":-3.8},{"r":"d","p":"fit","s":"csr","t":2018.625,"v":-0.2},{"r":"d","p":"fit","s":"csr","t":2018.708,"v":3.3},{"r":"d","p":"fit","s":"csr","t":2018.792,"v":5.9},{"r":"d","p":"fit","s":"csr","t":2018.875,"v":7},{"r":"d","p":"fit","s":"csr","t":2018.958,"v":6.2},{"r":"d","p":"fit","s":"csr","t":2019.042,"v":3.7},{"r":"d","p":"fit","s":"csr","t":2019.125,"v":0.2},{"r":"d","p":"fit","s":"csr","t":2019.208,"v":-3.3},{"r":"d","p":"fit","s":"csr","t":2019.292,"v":-5.9},{"r":"d","p":"fit","s":"csr","t":2019.375,"v":-7},{"r":"d","p":"fit","s":"csr","t":2019.458,"v":-6.2},{"r":"d","p":"fit","s":"csr","t":2019.542,"v":-3.7},{"r":"d","p":"fit","s":"csr","t":2019.625,"v":-0.2}
    ]
  },
  "spacing": 17,
  "resolve": {"scale": {"x": "independent", "y": "independent", "color": "independent", "strokeDash": "independent"}, "legend": {"color": "independent", "strokeDash": "independent"}},
  "vconcat": [
    {
      "hconcat": [
        {
          "vconcat": [
            {
              "title": {"text": "(a) Yunnan Province"},
              "width": 406, "height": 136,
              "data": {"name": "gms"},
              "transform": [{"filter": "datum.r === 'a' && datum.p === 'obs'"}],
              "layer": [
                {
                  "mark": {"type": "line"},
                  "encoding": {
                    "x": {"field": "t", "type": "quantitative", "scale": {"domain": [2017, 2020], "nice": false, "zero": false}, "axis": {"title": null, "values": [2017, 2017.5, 2018, 2018.5, 2019, 2019.5, 2020], "labels": false}},
                    "y": {"field": "v", "type": "quantitative", "scale": {"domain": [-120, 168], "nice": false, "zero": false}, "axis": {"title": null, "values": [-80, -40, 0, 40, 80, 120, 160], "labelExpr": "datum.value % 80 === 0 ? datum.label : ''"}},
                    "color": {"field": "s", "type": "nominal", "scale": {"domain": ["csr", "raw", "basin", "pixel"], "range": ["#000000", "#2ee62e", "#0010d8", "#e02222"]}, "legend": {"title": null, "orient": "none", "legendX": 28, "legendY": 8, "columns": 2, "columnPadding": 58, "rowPadding": 0, "symbolType": "M-2.8,0H2.8", "symbolSize": 144, "symbolStrokeWidth": 2.2, "labelFont": "Liberation Serif", "labelFontSize": 15.5, "labelColor": "black", "labelOffset": 20, "labelLimit": 0, "padding": 0, "labelExpr": "datum.value === 'csr' ? 'CSR GFO−SH' : datum.value === 'raw' ? 'Raw GPS' : datum.value === 'basin' ? 'Basin−scaled GPS' : 'Pixel−scaled GPS'"}},
                    "strokeDash": {"field": "s", "type": "nominal", "scale": {"domain": ["csr", "raw", "basin", "pixel"], "range": [[1, 0], [1, 0], [1, 0], [11, 7]]}, "legend": {"title": null, "orient": "none", "legendX": 28, "legendY": 8, "columns": 2, "columnPadding": 58, "rowPadding": 0, "symbolType": "M-2.8,0H2.8", "symbolSize": 144, "symbolStrokeWidth": 2.2, "labelFont": "Liberation Serif", "labelFontSize": 15.5, "labelColor": "black", "labelOffset": 20, "labelLimit": 0, "padding": 0, "labelExpr": "datum.value === 'csr' ? 'CSR GFO−SH' : datum.value === 'raw' ? 'Raw GPS' : datum.value === 'basin' ? 'Basin−scaled GPS' : 'Pixel−scaled GPS'"}}
                  }
                },
                {
                  "mark": {"type": "line", "opacity": 0},
                  "encoding": {
                    "x": {"field": "t", "type": "quantitative", "axis": {"orient": "top", "title": null, "labels": false, "tickSize": -5, "values": [2017, 2017.5, 2018, 2018.5, 2019, 2019.5, 2020]}},
                    "y": {"field": "v", "type": "quantitative", "axis": {"orient": "right", "title": null, "labels": false, "tickSize": -5, "values": [-80, -40, 0, 40, 80, 120, 160]}}
                  }
                }
              ],
              "resolve": {"axis": {"x": "independent", "y": "independent"}}
            },
            {
              "width": 406, "height": 136,
              "data": {"name": "gms"},
              "transform": [{"filter": "datum.r === 'a' && datum.p === 'fit'"}],
              "layer": [
                {
                  "mark": {"type": "line"},
                  "encoding": {
                    "x": {"field": "t", "type": "quantitative", "scale": {"domain": [2017, 2020], "nice": false, "zero": false}, "axis": {"title": null, "values": [2017, 2017.5, 2018, 2018.5, 2019, 2019.5, 2020], "labels": false}},
                    "y": {"field": "v", "type": "quantitative", "scale": {"domain": [-120, 168], "nice": false, "zero": false}, "axis": {"title": null, "values": [-80, -40, 0, 40, 80, 120, 160], "labelExpr": "datum.value % 80 === 0 ? datum.label : ''"}},
                    "color": {"field": "s", "type": "nominal", "scale": {"domain": ["csr", "raw", "basin", "pixel"], "range": ["#000000", "#2ee62e", "#0010d8", "#e02222"]}, "legend": {"title": null, "orient": "none", "legendX": 28, "legendY": 8, "columns": 2, "columnPadding": 58, "rowPadding": 0, "symbolType": "M-2.8,0H2.8", "symbolSize": 144, "symbolStrokeWidth": 2.2, "labelFont": "Liberation Serif", "labelFontSize": 15.5, "labelColor": "black", "labelOffset": 20, "labelLimit": 0, "padding": 0, "labelExpr": "datum.value === 'csr' ? 'CSR GFO−SH' : datum.value === 'raw' ? 'Raw GPS' : datum.value === 'basin' ? 'Basin−scaled GPS' : 'Pixel−scaled GPS'"}},
                    "strokeDash": {"field": "s", "type": "nominal", "scale": {"domain": ["csr", "raw", "basin", "pixel"], "range": [[1, 0], [1, 0], [1, 0], [11, 7]]}, "legend": {"title": null, "orient": "none", "legendX": 28, "legendY": 8, "columns": 2, "columnPadding": 58, "rowPadding": 0, "symbolType": "M-2.8,0H2.8", "symbolSize": 144, "symbolStrokeWidth": 2.2, "labelFont": "Liberation Serif", "labelFontSize": 15.5, "labelColor": "black", "labelOffset": 20, "labelLimit": 0, "padding": 0, "labelExpr": "datum.value === 'csr' ? 'CSR GFO−SH' : datum.value === 'raw' ? 'Raw GPS' : datum.value === 'basin' ? 'Basin−scaled GPS' : 'Pixel−scaled GPS'"}}
                  }
                },
                {
                  "mark": {"type": "line", "opacity": 0},
                  "encoding": {
                    "x": {"field": "t", "type": "quantitative", "axis": {"orient": "top", "title": null, "labels": false, "tickSize": -5, "values": [2017, 2017.5, 2018, 2018.5, 2019, 2019.5, 2020]}},
                    "y": {"field": "v", "type": "quantitative", "axis": {"orient": "right", "title": null, "labels": false, "tickSize": -5, "values": [-80, -40, 0, 40, 80, 120, 160]}}
                  }
                }
              ],
              "resolve": {"axis": {"x": "independent", "y": "independent"}}
            }
          ],
          "spacing": 0,
          "bounds": "flush",
          "resolve": {"scale": {"x": "independent", "y": "independent", "color": "independent", "strokeDash": "independent"}, "legend": {"color": "independent", "strokeDash": "independent"}}
        },
        {
          "vconcat": [
            {
              "title": {"text": "(b) Min River Basin"},
              "width": 409, "height": 136,
              "data": {"name": "gms"},
              "transform": [{"filter": "datum.r === 'b' && datum.p === 'obs'"}],
              "layer": [
                {
                  "mark": {"type": "line"},
                  "encoding": {
                    "x": {"field": "t", "type": "quantitative", "scale": {"domain": [2017, 2020], "nice": false, "zero": false}, "axis": {"title": null, "values": [2017, 2017.5, 2018, 2018.5, 2019, 2019.5, 2020], "labels": false}},
                    "y": {"field": "v", "type": "quantitative", "scale": {"domain": [-35, 60], "nice": false, "zero": false}, "axis": {"title": null, "values": [-30, -20, -10, 0, 10, 20, 30, 40, 50], "labelExpr": "datum.value % 20 === 0 ? datum.label : ''"}},
                    "color": {"field": "s", "type": "nominal", "scale": {"domain": ["csr", "raw", "basin", "pixel"], "range": ["#000000", "#2ee62e", "#0010d8", "#e02222"]}, "legend": {"title": null, "orient": "none", "legendX": 28, "legendY": 8, "columns": 2, "columnPadding": 58, "rowPadding": 0, "symbolType": "M-2.8,0H2.8", "symbolSize": 144, "symbolStrokeWidth": 2.2, "labelFont": "Liberation Serif", "labelFontSize": 15.5, "labelColor": "black", "labelOffset": 20, "labelLimit": 0, "padding": 0, "labelExpr": "datum.value === 'csr' ? 'CSR GFO−SH' : datum.value === 'raw' ? 'Raw GPS' : datum.value === 'basin' ? 'Basin−scaled GPS' : 'Pixel−scaled GPS'"}},
                    "strokeDash": {"field": "s", "type": "nominal", "scale": {"domain": ["csr", "raw", "basin", "pixel"], "range": [[1, 0], [1, 0], [1, 0], [11, 7]]}, "legend": {"title": null, "orient": "none", "legendX": 28, "legendY": 8, "columns": 2, "columnPadding": 58, "rowPadding": 0, "symbolType": "M-2.8,0H2.8", "symbolSize": 144, "symbolStrokeWidth": 2.2, "labelFont": "Liberation Serif", "labelFontSize": 15.5, "labelColor": "black", "labelOffset": 20, "labelLimit": 0, "padding": 0, "labelExpr": "datum.value === 'csr' ? 'CSR GFO−SH' : datum.value === 'raw' ? 'Raw GPS' : datum.value === 'basin' ? 'Basin−scaled GPS' : 'Pixel−scaled GPS'"}}
                  }
                },
                {
                  "mark": {"type": "line", "opacity": 0},
                  "encoding": {
                    "x": {"field": "t", "type": "quantitative", "axis": {"orient": "top", "title": null, "labels": false, "tickSize": -5, "values": [2017, 2017.5, 2018, 2018.5, 2019, 2019.5, 2020]}},
                    "y": {"field": "v", "type": "quantitative", "axis": {"orient": "right", "title": null, "labels": false, "tickSize": -5, "values": [-30, -20, -10, 0, 10, 20, 30, 40, 50]}}
                  }
                }
              ],
              "resolve": {"axis": {"x": "independent", "y": "independent"}}
            },
            {
              "width": 409, "height": 136,
              "data": {"name": "gms"},
              "transform": [{"filter": "datum.r === 'b' && datum.p === 'fit'"}],
              "layer": [
                {
                  "mark": {"type": "line"},
                  "encoding": {
                    "x": {"field": "t", "type": "quantitative", "scale": {"domain": [2017, 2020], "nice": false, "zero": false}, "axis": {"title": null, "values": [2017, 2017.5, 2018, 2018.5, 2019, 2019.5, 2020], "labels": false}},
                    "y": {"field": "v", "type": "quantitative", "scale": {"domain": [-35, 60], "nice": false, "zero": false}, "axis": {"title": null, "values": [-30, -20, -10, 0, 10, 20, 30, 40, 50], "labelExpr": "datum.value % 20 === 0 ? datum.label : ''"}},
                    "color": {"field": "s", "type": "nominal", "scale": {"domain": ["csr", "raw", "basin", "pixel"], "range": ["#000000", "#2ee62e", "#0010d8", "#e02222"]}, "legend": {"title": null, "orient": "none", "legendX": 28, "legendY": 8, "columns": 2, "columnPadding": 58, "rowPadding": 0, "symbolType": "M-2.8,0H2.8", "symbolSize": 144, "symbolStrokeWidth": 2.2, "labelFont": "Liberation Serif", "labelFontSize": 15.5, "labelColor": "black", "labelOffset": 20, "labelLimit": 0, "padding": 0, "labelExpr": "datum.value === 'csr' ? 'CSR GFO−SH' : datum.value === 'raw' ? 'Raw GPS' : datum.value === 'basin' ? 'Basin−scaled GPS' : 'Pixel−scaled GPS'"}},
                    "strokeDash": {"field": "s", "type": "nominal", "scale": {"domain": ["csr", "raw", "basin", "pixel"], "range": [[1, 0], [1, 0], [1, 0], [11, 7]]}, "legend": {"title": null, "orient": "none", "legendX": 28, "legendY": 8, "columns": 2, "columnPadding": 58, "rowPadding": 0, "symbolType": "M-2.8,0H2.8", "symbolSize": 144, "symbolStrokeWidth": 2.2, "labelFont": "Liberation Serif", "labelFontSize": 15.5, "labelColor": "black", "labelOffset": 20, "labelLimit": 0, "padding": 0, "labelExpr": "datum.value === 'csr' ? 'CSR GFO−SH' : datum.value === 'raw' ? 'Raw GPS' : datum.value === 'basin' ? 'Basin−scaled GPS' : 'Pixel−scaled GPS'"}}
                  }
                },
                {
                  "mark": {"type": "line", "opacity": 0},
                  "encoding": {
                    "x": {"field": "t", "type": "quantitative", "axis": {"orient": "top", "title": null, "labels": false, "tickSize": -5, "values": [2017, 2017.5, 2018, 2018.5, 2019, 2019.5, 2020]}},
                    "y": {"field": "v", "type": "quantitative", "axis": {"orient": "right", "title": null, "labels": false, "tickSize": -5, "values": [-30, -20, -10, 0, 10, 20, 30, 40, 50]}}
                  }
                }
              ],
              "resolve": {"axis": {"x": "independent", "y": "independent"}}
            }
          ],
          "spacing": 0,
          "bounds": "flush",
          "resolve": {"scale": {"x": "independent", "y": "independent", "color": "independent", "strokeDash": "independent"}, "legend": {"color": "independent", "strokeDash": "independent"}}
        }
      ],
      "spacing": 32,
      "resolve": {"scale": {"x": "independent", "y": "independent", "color": "independent", "strokeDash": "independent"}, "legend": {"color": "independent", "strokeDash": "independent"}}
    },
    {
      "hconcat": [
        {
          "vconcat": [
            {
              "title": {"text": "(c) Jialing River Basin"},
              "width": 406, "height": 136,
              "data": {"name": "gms"},
              "transform": [{"filter": "datum.r === 'c' && datum.p === 'obs'"}],
              "layer": [
                {
                  "mark": {"type": "line"},
                  "encoding": {
                    "x": {"field": "t", "type": "quantitative", "scale": {"domain": [2017, 2020], "nice": false, "zero": false}, "axis": {"title": null, "values": [2017, 2017.5, 2018, 2018.5, 2019, 2019.5, 2020], "labels": false}},
                    "y": {"field": "v", "type": "quantitative", "scale": {"domain": [-35, 50], "nice": false, "zero": false}, "axis": {"title": null, "values": [-30, -20, -10, 0, 10, 20, 30, 40], "labelExpr": "datum.value % 20 === 0 ? datum.label : ''"}},
                    "color": {"field": "s", "type": "nominal", "scale": {"domain": ["csr", "raw", "basin", "pixel"], "range": ["#000000", "#2ee62e", "#0010d8", "#e02222"]}, "legend": {"title": null, "orient": "none", "legendX": 28, "legendY": 8, "columns": 2, "columnPadding": 58, "rowPadding": 0, "symbolType": "M-2.8,0H2.8", "symbolSize": 144, "symbolStrokeWidth": 2.2, "labelFont": "Liberation Serif", "labelFontSize": 15.5, "labelColor": "black", "labelOffset": 20, "labelLimit": 0, "padding": 0, "labelExpr": "datum.value === 'csr' ? 'CSR GFO−SH' : datum.value === 'raw' ? 'Raw GPS' : datum.value === 'basin' ? 'Basin−scaled GPS' : 'Pixel−scaled GPS'"}},
                    "strokeDash": {"field": "s", "type": "nominal", "scale": {"domain": ["csr", "raw", "basin", "pixel"], "range": [[1, 0], [1, 0], [1, 0], [11, 7]]}, "legend": {"title": null, "orient": "none", "legendX": 28, "legendY": 8, "columns": 2, "columnPadding": 58, "rowPadding": 0, "symbolType": "M-2.8,0H2.8", "symbolSize": 144, "symbolStrokeWidth": 2.2, "labelFont": "Liberation Serif", "labelFontSize": 15.5, "labelColor": "black", "labelOffset": 20, "labelLimit": 0, "padding": 0, "labelExpr": "datum.value === 'csr' ? 'CSR GFO−SH' : datum.value === 'raw' ? 'Raw GPS' : datum.value === 'basin' ? 'Basin−scaled GPS' : 'Pixel−scaled GPS'"}}
                  }
                },
                {
                  "mark": {"type": "line", "opacity": 0},
                  "encoding": {
                    "x": {"field": "t", "type": "quantitative", "axis": {"orient": "top", "title": null, "labels": false, "tickSize": -5, "values": [2017, 2017.5, 2018, 2018.5, 2019, 2019.5, 2020]}},
                    "y": {"field": "v", "type": "quantitative", "axis": {"orient": "right", "title": null, "labels": false, "tickSize": -5, "values": [-30, -20, -10, 0, 10, 20, 30, 40]}}
                  }
                }
              ],
              "resolve": {"axis": {"x": "independent", "y": "independent"}}
            },
            {
              "width": 406, "height": 136,
              "data": {"name": "gms"},
              "transform": [{"filter": "datum.r === 'c' && datum.p === 'fit'"}],
              "layer": [
                {
                  "mark": {"type": "line"},
                  "encoding": {
                    "x": {"field": "t", "type": "quantitative", "scale": {"domain": [2017, 2020], "nice": false, "zero": false}, "axis": {"title": null, "values": [2017, 2017.5, 2018, 2018.5, 2019, 2019.5, 2020], "format": "d", "labelPadding": -3, "labelExpr": "datum.value % 1 === 0 ? datum.label : ''"}},
                    "y": {"field": "v", "type": "quantitative", "scale": {"domain": [-35, 50], "nice": false, "zero": false}, "axis": {"title": null, "values": [-30, -20, -10, 0, 10, 20, 30, 40], "labelExpr": "datum.value % 20 === 0 ? datum.label : ''"}},
                    "color": {"field": "s", "type": "nominal", "scale": {"domain": ["csr", "raw", "basin", "pixel"], "range": ["#000000", "#2ee62e", "#0010d8", "#e02222"]}, "legend": {"title": null, "orient": "none", "legendX": 28, "legendY": 8, "columns": 2, "columnPadding": 58, "rowPadding": 0, "symbolType": "M-2.8,0H2.8", "symbolSize": 144, "symbolStrokeWidth": 2.2, "labelFont": "Liberation Serif", "labelFontSize": 15.5, "labelColor": "black", "labelOffset": 20, "labelLimit": 0, "padding": 0, "labelExpr": "datum.value === 'csr' ? 'CSR GFO−SH' : datum.value === 'raw' ? 'Raw GPS' : datum.value === 'basin' ? 'Basin−scaled GPS' : 'Pixel−scaled GPS'"}},
                    "strokeDash": {"field": "s", "type": "nominal", "scale": {"domain": ["csr", "raw", "basin", "pixel"], "range": [[1, 0], [1, 0], [1, 0], [11, 7]]}, "legend": {"title": null, "orient": "none", "legendX": 28, "legendY": 8, "columns": 2, "columnPadding": 58, "rowPadding": 0, "symbolType": "M-2.8,0H2.8", "symbolSize": 144, "symbolStrokeWidth": 2.2, "labelFont": "Liberation Serif", "labelFontSize": 15.5, "labelColor": "black", "labelOffset": 20, "labelLimit": 0, "padding": 0, "labelExpr": "datum.value === 'csr' ? 'CSR GFO−SH' : datum.value === 'raw' ? 'Raw GPS' : datum.value === 'basin' ? 'Basin−scaled GPS' : 'Pixel−scaled GPS'"}}
                  }
                },
                {
                  "mark": {"type": "line", "opacity": 0},
                  "encoding": {
                    "x": {"field": "t", "type": "quantitative", "axis": {"orient": "top", "title": null, "labels": false, "tickSize": -5, "values": [2017, 2017.5, 2018, 2018.5, 2019, 2019.5, 2020]}},
                    "y": {"field": "v", "type": "quantitative", "axis": {"orient": "right", "title": null, "labels": false, "tickSize": -5, "values": [-30, -20, -10, 0, 10, 20, 30, 40]}}
                  }
                }
              ],
              "resolve": {"axis": {"x": "independent", "y": "independent"}}
            }
          ],
          "spacing": 0,
          "bounds": "flush",
          "resolve": {"scale": {"x": "independent", "y": "independent", "color": "independent", "strokeDash": "independent"}, "legend": {"color": "independent", "strokeDash": "independent"}}
        },
        {
          "vconcat": [
            {
              "title": {"text": "(d) Wu River Basin"},
              "width": 409, "height": 136,
              "data": {"name": "gms"},
              "transform": [{"filter": "datum.r === 'd' && datum.p === 'obs'"}],
              "layer": [
                {
                  "mark": {"type": "line"},
                  "encoding": {
                    "x": {"field": "t", "type": "quantitative", "scale": {"domain": [2017, 2020], "nice": false, "zero": false}, "axis": {"title": null, "values": [2017, 2017.5, 2018, 2018.5, 2019, 2019.5, 2020], "labels": false}},
                    "y": {"field": "v", "type": "quantitative", "scale": {"domain": [-35, 50], "nice": false, "zero": false}, "axis": {"title": null, "values": [-30, -20, -10, 0, 10, 20, 30, 40], "labelExpr": "datum.value % 20 === 0 ? datum.label : ''"}},
                    "color": {"field": "s", "type": "nominal", "scale": {"domain": ["csr", "raw", "basin", "pixel"], "range": ["#000000", "#2ee62e", "#0010d8", "#e02222"]}, "legend": {"title": null, "orient": "none", "legendX": 28, "legendY": 8, "columns": 2, "columnPadding": 58, "rowPadding": 0, "symbolType": "M-2.8,0H2.8", "symbolSize": 144, "symbolStrokeWidth": 2.2, "labelFont": "Liberation Serif", "labelFontSize": 15.5, "labelColor": "black", "labelOffset": 20, "labelLimit": 0, "padding": 0, "labelExpr": "datum.value === 'csr' ? 'CSR GFO−SH' : datum.value === 'raw' ? 'Raw GPS' : datum.value === 'basin' ? 'Basin−scaled GPS' : 'Pixel−scaled GPS'"}},
                    "strokeDash": {"field": "s", "type": "nominal", "scale": {"domain": ["csr", "raw", "basin", "pixel"], "range": [[1, 0], [1, 0], [1, 0], [11, 7]]}, "legend": {"title": null, "orient": "none", "legendX": 28, "legendY": 8, "columns": 2, "columnPadding": 58, "rowPadding": 0, "symbolType": "M-2.8,0H2.8", "symbolSize": 144, "symbolStrokeWidth": 2.2, "labelFont": "Liberation Serif", "labelFontSize": 15.5, "labelColor": "black", "labelOffset": 20, "labelLimit": 0, "padding": 0, "labelExpr": "datum.value === 'csr' ? 'CSR GFO−SH' : datum.value === 'raw' ? 'Raw GPS' : datum.value === 'basin' ? 'Basin−scaled GPS' : 'Pixel−scaled GPS'"}}
                  }
                },
                {
                  "mark": {"type": "line", "opacity": 0},
                  "encoding": {
                    "x": {"field": "t", "type": "quantitative", "axis": {"orient": "top", "title": null, "labels": false, "tickSize": -5, "values": [2017, 2017.5, 2018, 2018.5, 2019, 2019.5, 2020]}},
                    "y": {"field": "v", "type": "quantitative", "axis": {"orient": "right", "title": null, "labels": false, "tickSize": -5, "values": [-30, -20, -10, 0, 10, 20, 30, 40]}}
                  }
                }
              ],
              "resolve": {"axis": {"x": "independent", "y": "independent"}}
            },
            {
              "width": 409, "height": 136,
              "data": {"name": "gms"},
              "transform": [{"filter": "datum.r === 'd' && datum.p === 'fit'"}],
              "layer": [
                {
                  "mark": {"type": "line"},
                  "encoding": {
                    "x": {"field": "t", "type": "quantitative", "scale": {"domain": [2017, 2020], "nice": false, "zero": false}, "axis": {"title": null, "values": [2017, 2017.5, 2018, 2018.5, 2019, 2019.5, 2020], "format": "d", "labelPadding": -3, "labelExpr": "datum.value % 1 === 0 ? datum.label : ''"}},
                    "y": {"field": "v", "type": "quantitative", "scale": {"domain": [-35, 50], "nice": false, "zero": false}, "axis": {"title": null, "values": [-30, -20, -10, 0, 10, 20, 30, 40], "labelExpr": "datum.value % 20 === 0 ? datum.label : ''"}},
                    "color": {"field": "s", "type": "nominal", "scale": {"domain": ["csr", "raw", "basin", "pixel"], "range": ["#000000", "#2ee62e", "#0010d8", "#e02222"]}, "legend": {"title": null, "orient": "none", "legendX": 28, "legendY": 8, "columns": 2, "columnPadding": 58, "rowPadding": 0, "symbolType": "M-2.8,0H2.8", "symbolSize": 144, "symbolStrokeWidth": 2.2, "labelFont": "Liberation Serif", "labelFontSize": 15.5, "labelColor": "black", "labelOffset": 20, "labelLimit": 0, "padding": 0, "labelExpr": "datum.value === 'csr' ? 'CSR GFO SH' : datum.value === 'raw' ? 'Raw GPS' : datum.value === 'basin' ? 'Basin−scaled−GPS' : 'Pixel−scaled GPS'"}},
                    "strokeDash": {"field": "s", "type": "nominal", "scale": {"domain": ["csr", "raw", "basin", "pixel"], "range": [[1, 0], [1, 0], [1, 0], [11, 7]]}, "legend": {"title": null, "orient": "none", "legendX": 28, "legendY": 8, "columns": 2, "columnPadding": 58, "rowPadding": 0, "symbolType": "M-2.8,0H2.8", "symbolSize": 144, "symbolStrokeWidth": 2.2, "labelFont": "Liberation Serif", "labelFontSize": 15.5, "labelColor": "black", "labelOffset": 20, "labelLimit": 0, "padding": 0, "labelExpr": "datum.value === 'csr' ? 'CSR GFO SH' : datum.value === 'raw' ? 'Raw GPS' : datum.value === 'basin' ? 'Basin−scaled−GPS' : 'Pixel−scaled GPS'"}}
                  }
                },
                {
                  "mark": {"type": "line", "opacity": 0},
                  "encoding": {
                    "x": {"field": "t", "type": "quantitative", "axis": {"orient": "top", "title": null, "labels": false, "tickSize": -5, "values": [2017, 2017.5, 2018, 2018.5, 2019, 2019.5, 2020]}},
                    "y": {"field": "v", "type": "quantitative", "axis": {"orient": "right", "title": null, "labels": false, "tickSize": -5, "values": [-30, -20, -10, 0, 10, 20, 30, 40]}}
                  }
                }
              ],
              "resolve": {"axis": {"x": "independent", "y": "independent"}}
            }
          ],
          "spacing": 0,
          "bounds": "flush",
          "resolve": {"scale": {"x": "independent", "y": "independent", "color": "independent", "strokeDash": "independent"}, "legend": {"color": "independent", "strokeDash": "independent"}}
        }
      ],
      "spacing": 17,
      "resolve": {"scale": {"x": "independent", "y": "independent", "color": "independent", "strokeDash": "independent"}, "legend": {"color": "independent", "strokeDash": "independent"}}
    }
  ]
}
